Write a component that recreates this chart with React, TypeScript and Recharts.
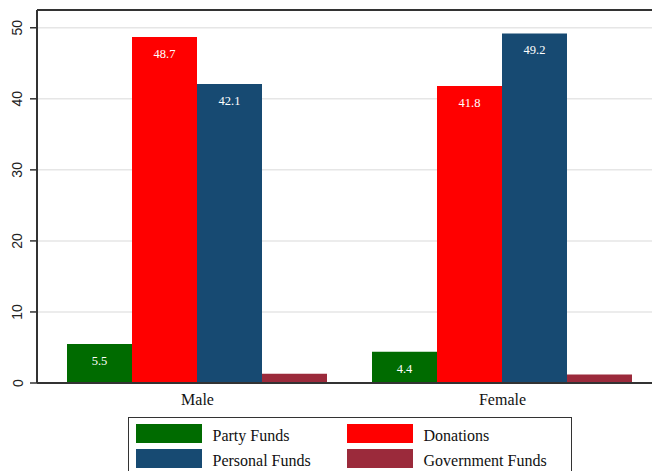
import React from "react";
import { BarChart, Bar, XAxis, YAxis, CartesianGrid, LabelList, ReferenceLine } from "recharts";

const categories = ["Male", "Female"];
const partyFunds = [5.5, 4.4];
const donations = [48.7, 41.8];
const personalFunds = [42.1, 49.2];
const governmentFunds = [1.3, 1.2];
const yTicks = [0, 10, 20, 30, 40, 50];

const series = [
  { key: "party", name: "Party Funds", color: "#006b00", values: partyFunds, label: true },
  { key: "donations", name: "Donations", color: "#ff0000", values: donations, label: true },
  { key: "personal", name: "Personal Funds", color: "#174a72", values: personalFunds, label: true },
  { key: "government", name: "Government Funds", color: "#9b2a3b", values: governmentFunds, label: false },
];

const data = categories.map((c, i) => {
  const row: any = { category: c };
  series.forEach((s) => (row[s.key] = s.values[i]));
  return row;
});

const YTick = (props: any) => {
  const { y, payload } = props;
  const cx = 9.5;
  return (
    <text
      x={cx}
      y={y}
      transform={`rotate(-90, ${cx}, ${y})`}
      textAnchor="middle"
      dominantBaseline="central"
      fontFamily="'Liberation Sans', Arial, sans-serif"
      fontSize={14}
      fill="#222"
    >
      {payload.value}
    </text>
  );
};

const legendOrder = [
  [series[0], series[1]],
  [series[2], series[3]],
];

export default function App() {
  return (
    <div style={{ position: "relative", width: 652, height: 463 }}>
      <BarChart
        width={652}
        height={463}
        data={data}
        margin={{ top: 2, right: 0, bottom: 58, left: 0 }}
        barCategoryGap={22}
        barGap={0}
      >
        <CartesianGrid vertical={false} stroke="#e6e6e6" strokeWidth={1.5} />
        <XAxis
          dataKey="category"
          height={30}
          padding={{ left: 8, right: 5 }}
          tickLine={false}
          tickSize={0}
          tickMargin={11}
          axisLine={{ stroke: "#333", strokeWidth: 2 }}
          tick={{ fontFamily: "'Liberation Serif', 'Times New Roman', serif", fontSize: 16, fill: "#111" }}
        />
        <YAxis
          width={29}
          domain={[0, 52.5]}
          ticks={yTicks}
          tickSize={7}
          tickLine={{ stroke: "#333", strokeWidth: 1.5 }}
          axisLine={{ stroke: "#333", strokeWidth: 2 }}
          tick={<YTick />}
          allowDataOverflow
        />
        <ReferenceLine y={52.5} stroke="#333" strokeWidth={2} ifOverflow="extendDomain" />
        {series.map((s) => (
          <Bar key={s.key} dataKey={s.key} name={s.name} fill={s.color} isAnimationActive={false}>
            {s.label ? (
              <LabelList
                dataKey={s.key}
                position="insideTop"
                offset={12}
                fill="#ffffff"
                fontSize={12.5}
                fontFamily="'Liberation Serif', 'Times New Roman', serif"
              />
            ) : null}
          </Bar>
        ))}
      </BarChart>
      <div
        style={{
          position: "absolute",
          left: 120,
          top: 409,
          width: 444,
          height: 70,
          border: "1.5px solid #333",
          boxSizing: "border-box",
          fontFamily: "'Liberation Serif', 'Times New Roman', serif",
          fontSize: 16,
          color: "#111",
        }}
      >
        {legendOrder.map((row, ri) => (
          <div
            key={ri}
            style={{ position: "absolute", top: 6 + ri * 25, left: 0, width: "100%", height: 19 }}
          >
            {row.map((s, ci) => (
              <div
                key={s.key}
                style={{
                  position: "absolute",
                  left: 6.5 + ci * 211,
                  top: 0,
                  height: 19,
                  display: "flex",
                  alignItems: "center",
                  whiteSpace: "nowrap",
                }}
              >
                <div style={{ width: 66, height: 19, background: s.color }} />
                <span style={{ marginLeft: 11, position: "relative", top: 2 }}>{s.name}</span>
              </div>
            ))}
          </div>
        ))}
      </div>
    </div>
  );
}
